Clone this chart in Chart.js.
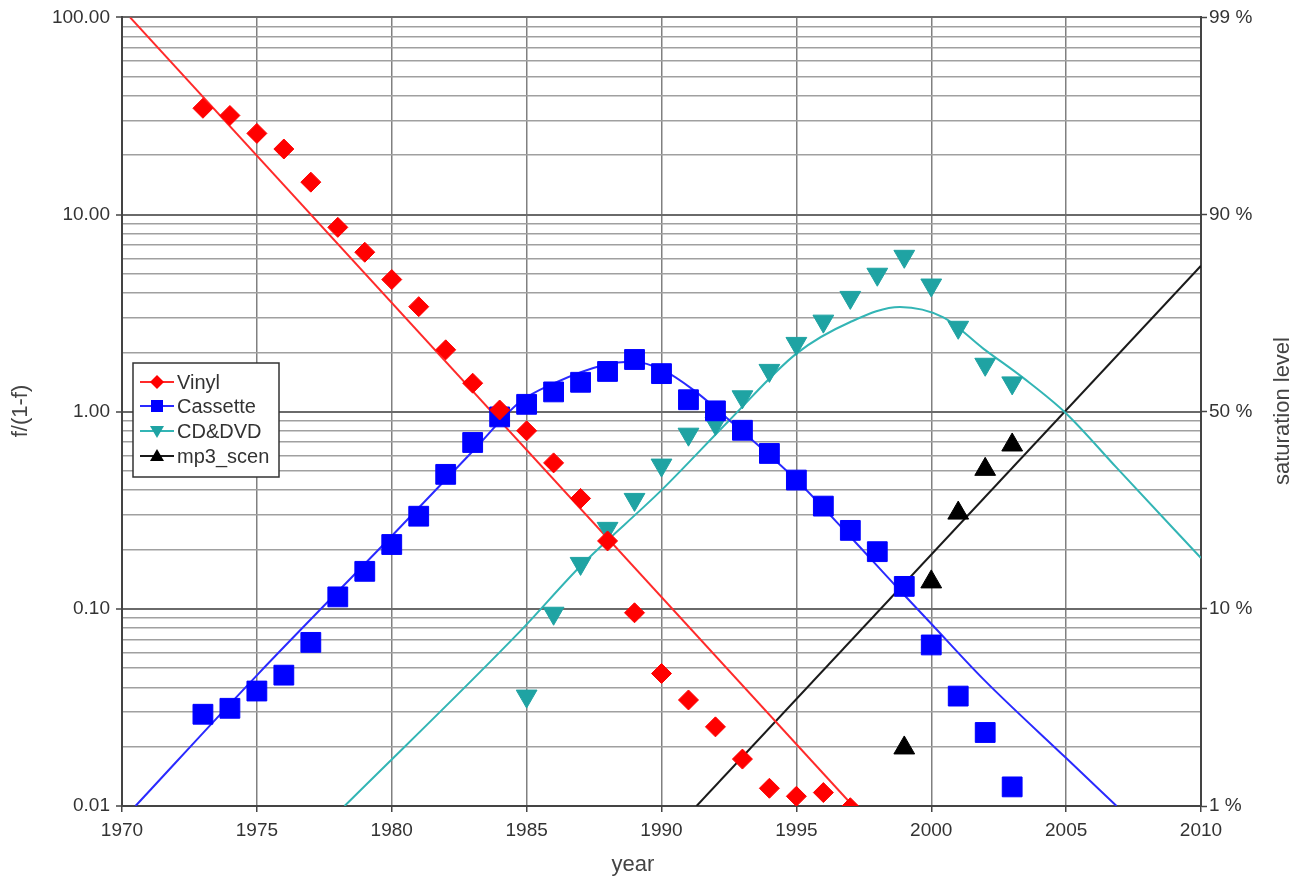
<!DOCTYPE html>
<html>
<head>
<meta charset="utf-8">
<script src="https://cdn.jsdelivr.net/npm/chart.js"></script>
<style>
html,body{margin:0;padding:0;background:#ffffff;}
canvas{display:block;}
</style>
</head>
<body>
<canvas id="c" width="1297" height="878"></canvas>
<script>
// ---------------- DATA ----------------
const seriesNames = ['Vinyl', 'Cassette', 'CD&DVD', 'mp3_scen'];

const vinylYears  = [1973,1974,1975,1976,1977,1978,1979,1980,1981,1982,1983,1984,1985,1986,1987,1988,1989,1990,1991,1992,1993,1994,1995,1996,1997];
const vinylValues = [34.6,31.8,25.8,21.5,14.6,8.61,6.44,4.68,3.41,2.06,1.395,1.02,0.80,0.55,0.363,0.221,0.0955,0.047,0.0345,0.0252,0.0173,0.0123,0.0112,0.0117,0.0098];

const cassetteYears  = [1973,1974,1975,1976,1977,1978,1979,1980,1981,1982,1983,1984,1985,1986,1987,1988,1989,1990,1991,1992,1993,1994,1995,1996,1997,1998,1999,2000,2001,2002,2003];
const cassetteValues = [0.0292,0.0313,0.0383,0.0461,0.0676,0.115,0.155,0.212,0.295,0.481,0.698,0.941,1.09,1.26,1.41,1.60,1.84,1.56,1.15,1.01,0.805,0.614,0.45,0.332,0.25,0.195,0.130,0.0656,0.0361,0.0236,0.0125];

const cdYears  = [1985,1986,1987,1988,1989,1990,1991,1992,1993,1994,1995,1996,1997,1998,1999,2000,2001,2002,2003];
const cdValues = [0.0361,0.095,0.170,0.256,0.359,0.536,0.769,0.871,1.19,1.62,2.22,2.88,3.8,4.98,6.14,4.39,2.68,1.74,1.40];

const mp3Years  = [1999,2000,2001,2002,2003];
const mp3Values = [0.0197,0.137,0.306,0.51,0.678];

// fitted curves
const vinylFitYears  = [1970.3, 1997.1];
const vinylFitValues = [100, 0.01];

const cassetteFitYears  = [1970.5,1975,1980,1983,1984.75,1986,1987.84,1988.95,1990.07,1991.18,1992.79,1995,1997,1998.72,2000,2001.93,2005,2006.87];
const cassetteFitValues = [0.01,0.046,0.234,0.63,1.12,1.39,1.72,1.79,1.62,1.29,0.84,0.45,0.232,0.129,0.084,0.044,0.0175,0.01];

const cdFitYears  = [1978.25,1984.8,1987,1990,1992.5,1995,1997,1998.84,2000.45,2001.93,2003.42,2005,2006.87,2010];
const cdFitValues = [0.01,0.078,0.165,0.40,0.90,1.97,2.85,3.40,3.01,2.09,1.48,0.98,0.52,0.181];

const mp3FitYears  = [1991.3, 2010];
const mp3FitValues = [0.01, 5.5];

// axes
const xTicks = [1970,1975,1980,1985,1990,1995,2000,2005,2010];
const yDecades = [100, 10, 1, 0.1, 0.01];
const leftTickLabels  = ['100.00', '10.00', '1.00', '0.10', '0.01'];
const rightTickLabels = ['99 %', '90 %', '50 %', '10 %', '1 %'];
const yMinorMultipliers = [2,3,4,5,6,7,8,9];

const xTitle = 'year';
const yLeftTitle = 'f/(1-f)';
const yRightTitle = 'saturation level';

// ---------------- STYLES ----------------
const markerColors = ['#ff0000', '#0000ff', '#1fa3a3', '#000000'];
const lineColors   = ['#ff2a2a', '#2a2aff', '#33b5b5', '#1a1a1a'];

function pts(xs, ys) { return xs.map((x, i) => ({x: x, y: ys[i]})); }

function allGridValues() {
  const vals = [];
  for (let d = 0; d < yDecades.length; d++) {
    vals.push(yDecades[d]);
    if (yDecades[d] > 0.01) {
      const base = yDecades[d] / 10;
      yMinorMultipliers.forEach(m => vals.push(+(base * m).toPrecision(6)));
    }
  }
  return vals.sort((a, b) => a - b);
}
function decadeIndex(v) {
  for (let i = 0; i < yDecades.length; i++) {
    if (Math.abs(v - yDecades[i]) / yDecades[i] < 1e-6) return i;
  }
  return -1;
}

const datasets = [
  {label: seriesNames[0], data: pts(vinylYears, vinylValues), pointStyle: 'rectRot', pointRadius: 10,
   backgroundColor: markerColors[0], borderColor: markerColors[0], pointBorderWidth: 1, showLine: false, order: 1},
  {label: seriesNames[1], data: pts(cassetteYears, cassetteValues), pointStyle: 'rect', pointRadius: 14,
   backgroundColor: markerColors[1], borderColor: markerColors[1], pointBorderWidth: 1, showLine: false, order: 1},
  {label: seriesNames[2], data: pts(cdYears, cdValues), pointStyle: 'triangle', pointRotation: 180, pointRadius: 12,
   backgroundColor: markerColors[2], borderColor: markerColors[2], pointBorderWidth: 1, showLine: false, order: 1},
  {label: seriesNames[3], data: pts(mp3Years, mp3Values), pointStyle: 'triangle', pointRadius: 12,
   backgroundColor: markerColors[3], borderColor: markerColors[3], pointBorderWidth: 1, showLine: false, order: 1},
  {label: seriesNames[0] + ' fit', data: pts(vinylFitYears, vinylFitValues), showLine: true, pointRadius: 0,
   borderColor: lineColors[0], borderWidth: 2, order: 2},
  {label: seriesNames[1] + ' fit', data: pts(cassetteFitYears, cassetteFitValues), showLine: true, pointRadius: 0,
   borderColor: lineColors[1], borderWidth: 2, cubicInterpolationMode: 'monotone', order: 2},
  {label: seriesNames[2] + ' fit', data: pts(cdFitYears, cdFitValues), showLine: true, pointRadius: 0,
   borderColor: lineColors[2], borderWidth: 2, cubicInterpolationMode: 'monotone', order: 2},
  {label: seriesNames[3] + ' fit', data: pts(mp3FitYears, mp3FitValues), showLine: true, pointRadius: 0,
   borderColor: lineColors[3], borderWidth: 2, order: 2}
];

const tickFont = {family: '"Liberation Sans", Arial, sans-serif', size: 19};
const tickColor = '#333333';

const overlayPlugin = {
  id: 'overlay',
  afterDraw(chart) {
    const ctx = chart.ctx;
    ctx.save();
    // titles
    ctx.fillStyle = '#444444';
    ctx.font = '22px "Liberation Sans", Arial, sans-serif';
    ctx.textAlign = 'center';
    ctx.textBaseline = 'alphabetic';
    ctx.fillText(xTitle, 633, 871);
    ctx.textBaseline = 'middle';
    ctx.save(); ctx.translate(21, 411); ctx.rotate(-Math.PI / 2); ctx.fillText(yLeftTitle, 0, 0); ctx.restore();
    ctx.save(); ctx.translate(1283, 411); ctx.rotate(-Math.PI / 2); ctx.fillText(yRightTitle, 0, 0); ctx.restore();

    // legend
    const bx = 133, by = 363, bw = 146, bh = 114;
    ctx.fillStyle = '#ffffff';
    ctx.fillRect(bx, by, bw, bh);
    ctx.strokeStyle = '#333333';
    ctx.lineWidth = 1.5;
    ctx.strokeRect(bx, by, bw, bh);
    const rowY = [382, 406, 431, 456];
    ctx.font = '20px "Liberation Sans", Arial, sans-serif';
    ctx.textAlign = 'left';
    ctx.textBaseline = 'middle';
    for (let i = 0; i < seriesNames.length; i++) {
      const y = rowY[i];
      ctx.strokeStyle = lineColors[i];
      ctx.lineWidth = 2;
      ctx.beginPath(); ctx.moveTo(140, y); ctx.lineTo(174, y); ctx.stroke();
      ctx.fillStyle = markerColors[i];
      const cx = 157;
      ctx.beginPath();
      if (i === 0) { ctx.moveTo(cx, y - 7); ctx.lineTo(cx + 7, y); ctx.lineTo(cx, y + 7); ctx.lineTo(cx - 7, y); }
      else if (i === 1) { ctx.rect(cx - 6, y - 6, 12, 12); }
      else if (i === 2) { ctx.moveTo(cx - 7, y - 5); ctx.lineTo(cx + 7, y - 5); ctx.lineTo(cx, y + 7); }
      else { ctx.moveTo(cx, y - 7); ctx.lineTo(cx + 7, y + 5); ctx.lineTo(cx - 7, y + 5); }
      ctx.closePath(); ctx.fill();
      ctx.fillStyle = '#333333';
      ctx.fillText(seriesNames[i], 177, y + 1);
    }
    ctx.restore();
  }
};

new Chart(document.getElementById('c'), {
  type: 'scatter',
  data: {datasets: datasets},
  plugins: [overlayPlugin],
  options: {
    responsive: false,
    animation: false,
    events: [],
    layout: {padding: {top: 17, left: 0, right: 0, bottom: 0}},
    plugins: {legend: {display: false}, tooltip: {enabled: false}, title: {display: false}},
    scales: {
      x: {
        type: 'linear', position: 'bottom', min: 1970, max: 2010,
        afterBuildTicks: s => { s.ticks = xTicks.map(v => ({value: v})); },
        afterFit: s => { s.height = 72; },
        ticks: {font: tickFont, color: tickColor, padding: 7, autoSkip: false, maxRotation: 0,
                callback: v => String(v)},
        grid: {color: '#808080', lineWidth: 1.5, tickLength: 6, tickColor: '#444444', tickWidth: 1.5},
        border: {display: true, color: '#444444', width: 2}
      },
      y: {
        type: 'logarithmic', position: 'left', min: 0.01, max: 100,
        afterBuildTicks: s => { s.ticks = allGridValues().map(v => ({value: v})); },
        afterFit: s => { s.width = 122; },
        ticks: {font: tickFont, color: tickColor, padding: 6, autoSkip: false,
                callback: v => { const i = decadeIndex(v); return i >= 0 ? leftTickLabels[i] : ''; }},
        grid: {
          color: c => (c.tick && decadeIndex(c.tick.value) >= 0) ? '#6a6a6a' : '#a0a0a0',
          lineWidth: c => (c.tick && decadeIndex(c.tick.value) >= 0) ? 2 : 1.5,
          tickLength: 6,
          tickColor: c => (c.tick && decadeIndex(c.tick.value) >= 0) ? '#444444' : 'rgba(0,0,0,0)',
          tickWidth: 1.5
        },
        border: {display: true, color: '#444444', width: 2}
      },
      y2: {
        type: 'logarithmic', position: 'right', min: 0.01, max: 100,
        afterBuildTicks: s => { s.ticks = allGridValues().map(v => ({value: v})); },
        afterFit: s => { s.width = 96; },
        ticks: {font: tickFont, color: tickColor, padding: 2, autoSkip: false,
                callback: v => { const i = decadeIndex(v); return i >= 0 ? rightTickLabels[i] : ''; }},
        grid: {
          drawOnChartArea: false,
          tickLength: 6,
          tickColor: c => (c.tick && decadeIndex(c.tick.value) >= 0) ? '#444444' : 'rgba(0,0,0,0)',
          tickWidth: 1.5
        },
        border: {display: true, color: '#444444', width: 2}
      }
    }
  }
});
</script>
</body>
</html>
